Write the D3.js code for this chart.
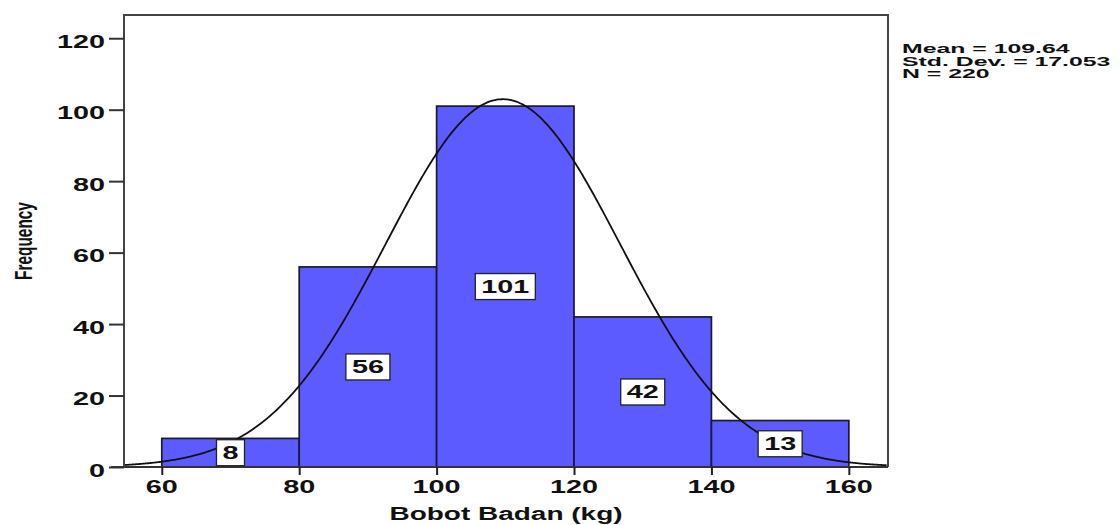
<!DOCTYPE html>
<html><head><meta charset="utf-8">
<script src="https://cdn.jsdelivr.net/npm/d3@7"></script>
<style>body{margin:0;background:#fff}svg{display:block}text{font-family:"Liberation Sans",Arial,sans-serif;font-weight:bold;fill:#111}</style>
</head><body>
<script>
const binStarts = [60, 80, 100, 120, 140];
const binWidth = 20;
const counts = [8, 56, 101, 42, 13];
const xTicks = [60, 80, 100, 120, 140, 160];
const yTicks = [0, 20, 40, 60, 80, 100, 120];
const statsLines = ["Mean = 109.64", "Std. Dev. = 17.053", "N = 220"];
const meanVal = 109.64, sdVal = 17.053, nVal = 220;
const xTitle = "Bobot Badan (kg)";
const yTitle = "Frequency";

const W = 1120, H = 525, SX = 1.6;
const svg = d3.select("body").append("svg").attr("width", W).attr("height", H);
const x = d3.scaleLinear().domain([54.5, 165.7]).range([124, 888]);
const y = d3.scaleLinear().domain([0, 126.5]).range([467, 15]);

function stext(g, px, py, str, size, anchor, sx) {
  return g.append("text").attr("transform", `translate(${px},${py}) scale(${sx || SX},1)`)
    .attr("text-anchor", anchor || "start").style("font-size", size + "px").text(str);
}

// bars
const bars = svg.append("g");
bars.selectAll("rect").data(binStarts).join("rect")
  .attr("x", d => x(d)).attr("width", d => x(d + binWidth) - x(d))
  .attr("y", (d, i) => y(counts[i])).attr("height", (d, i) => y(0) - y(counts[i]))
  .attr("fill", "#5b5bff").attr("stroke", "#1a1a33").attr("stroke-width", 1.7);

// curve
const pdf = v => nVal * binWidth * Math.exp(-0.5 * ((v - meanVal) / sdVal) ** 2) / (sdVal * Math.sqrt(2 * Math.PI));
const xs = d3.range(54.5, 165.71, 0.25);
svg.append("path").datum(xs)
  .attr("d", d3.line().x(v => x(v)).y(v => y(pdf(v))).curve(d3.curveBasis))
  .attr("fill", "none").attr("stroke", "#111").attr("stroke-width", 1.8);

// frame
svg.append("path").attr("d", `M${x.range()[0]},${y(0)}V${y.range()[1]}H${x.range()[1]}V${y(0)}`)
  .attr("fill", "none").attr("stroke", "#444").attr("stroke-width", 2);

// axes
const xAxis = svg.append("g").attr("transform", `translate(0,${y(0)})`)
  .call(d3.axisBottom(x).tickValues(xTicks).tickSize(8).tickFormat(""));
xAxis.select(".domain").attr("d", `M${x.range()[0] - 13},0H${x.range()[1]}`).attr("stroke", "#333").attr("stroke-width", 2);
xAxis.selectAll(".tick line").attr("stroke", "#222").attr("stroke-width", 2);
const yAxis = svg.append("g").attr("transform", `translate(${x.range()[0]},0)`)
  .call(d3.axisLeft(y).tickValues(yTicks).tickSize(15).tickFormat(""));
yAxis.select(".domain").remove();
yAxis.selectAll(".tick line").attr("stroke", "#333").attr("stroke-width", 2);

const lab = svg.append("g");
xTicks.forEach(t => stext(lab, x(t), 493, String(t), 18, "middle"));
yTicks.forEach(t => stext(lab, 105, y(t) + 9.5, String(t), 18, "end"));

// bar labels
const bl = svg.append("g");
binStarts.forEach((s, i) => {
  const cx = x(s + binWidth / 2), cy = y(counts[i] / 2);
  const g = bl.append("g");
  const r = g.append("rect");
  const t = stext(g, cx, cy + 6.5, String(counts[i]), 18, "middle");
  const w = t.node().getComputedTextLength() * SX + 12;
  r.attr("x", cx - w / 2).attr("y", cy - 13).attr("width", w).attr("height", 26)
    .attr("fill", "#fff").attr("stroke", "#222").attr("stroke-width", 1.3);
});

// titles
stext(svg, 506, 520, xTitle, 17.5, "middle");
svg.append("text").attr("transform", `translate(32,241) scale(${SX},1) rotate(-90)`)
  .attr("text-anchor", "middle").style("font-size", "15.4px").text(yTitle);

// stats
statsLines.forEach((s, i) => stext(svg, 902, 53 + i * 12.6, s, 13.2, "start", 1.88));
</script>
</body></html>
